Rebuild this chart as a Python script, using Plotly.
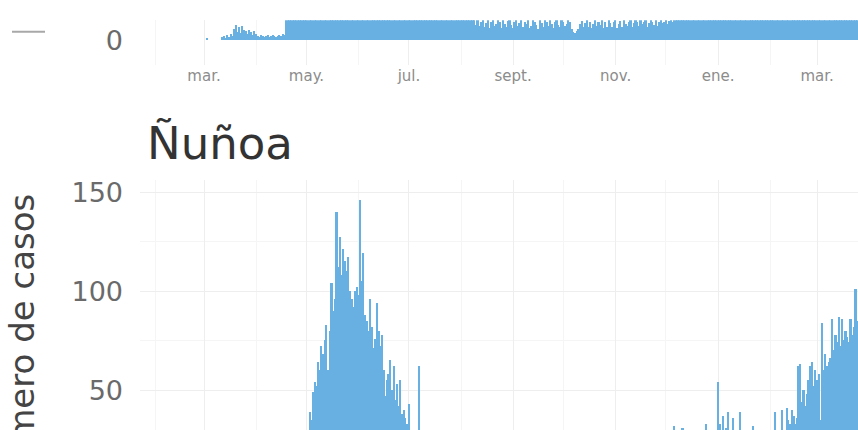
import pandas as pd
import plotly.graph_objects as go

W, H = 858, 430
START = "2020-03-01"

# ---- data (daily cases, day 0 = 2020-03-01) ----
top_vals = [
    0, 0, 0.5, 0, 0, 0, 0, 0, 0, 0, 0,
    1.5, 2, 1, 2.5, 1.5, 3, 2, 5.5, 7.5, 4,
    6.5, 3.5, 7, 5, 4.5, 3, 5, 4, 2.5, 4.5,
    3, 2, 1.5, 2.5, 2, 1.5, 2, 2.5, 1.5, 2,
    2.5, 2, 1.5, 2, 2.5, 2, 3, 2.5,
    14, 17, 15, 21, 18, 24, 20, 27, 23, 31,
    26, 35, 29, 38, 33, 41, 36, 45, 39, 48,
    43, 52, 46, 55, 49, 58, 51, 61, 54, 57,
    63, 55, 60, 52, 58, 49, 56, 47, 53, 44,
    50, 42, 47, 39, 45, 37, 43, 34, 41, 32,
    38, 30, 36, 28, 33, 26, 31, 24, 29, 22,
    27, 21, 25, 19, 23, 18, 22, 16, 20, 15,
    19, 14, 18, 13, 17, 12.5, 16, 12, 15, 11.5,
    14, 11, 13, 12, 10.5, 14, 11, 12.5, 10, 13,
    11.5, 10.5, 12, 13.5, 10, 11, 12, 10.5, 13, 11,
    10.5, 12, 11, 10, 12.5, 11.5, 10, 11, 13, 10.5, 12, 11, 10,
    7.5, 10.5, 7, 9, 10, 6.5, 8.5, 10, 6, 9, 10.5,
    7, 8, 10, 9, 6, 10, 8, 6.5, 9.5, 10, 7.5,
    6, 9, 10, 7, 8.5, 10, 6.5, 9, 8, 10, 6,
    7, 10, 9, 7.5, 5.5, 10, 8.5, 6.5, 10, 9, 7,
    10, 8, 6, 9, 10, 7.5, 6.5, 10.5, 9, 7, 8,
    10, 9, 5.5, 4, 3.5, 4.5, 5.5, 8, 9.5, 6.5, 8.5,
    10, 6.5, 9, 6, 8, 10, 7, 9, 7.5, 10, 6,
    9, 6.5, 10, 8.5, 6.5, 9, 10, 6, 8, 9.5, 6.5,
    10, 8, 7, 9, 10, 6.5, 8.5, 10, 9, 7, 10,
    8, 9, 10, 6.5, 8.5, 10, 9, 7.5, 10, 7, 9,
    10, 8.5, 9, 10, 8, 9.5, 10, 9, 10.5, 11, 12,
    14, 12.5, 16, 13, 18, 15, 21, 17, 24, 19,
    27, 22, 30, 25, 33, 28, 36, 31, 39, 34,
    42, 37, 45, 40, 48, 43, 51, 46, 55, 49,
    58, 52, 61, 55, 64, 58, 67, 61, 70, 64,
    73, 67, 76, 70, 79, 72, 82, 75, 85, 78,
    81, 76, 84, 79, 87, 80, 83, 77, 86, 80,
    84, 78, 88, 81, 85, 79, 90, 83, 87, 81,
    92, 85, 89, 83, 95, 87, 91, 85, 97, 89,
    93, 87, 99, 90, 95, 88, 101, 92, 97, 90,
    103, 94, 99, 92, 105, 96, 101, 94, 107, 98,
    103, 96, 109, 100, 105, 98, 111, 102,
]

nunoa_vals = [
    0, 0, 0, 1, 0, 2, 1, 3, 2, 4,
    5, 3, 6, 8, 7, 10, 9, 12, 8, 11,
    14, 10, 13, 9, 12, 15, 11, 8, 13, 10,
    12, 9, 14, 11, 10, 13, 8, 12, 15, 11,
    13, 16, 12, 18, 14, 17, 15, 19, 13, 16,
    17, 20, 16, 21, 19, 23, 22, 25, 21, 26,
    24, 28, 27, 39, 35, 49, 54, 52, 64, 60,
    72, 68, 75, 83, 60, 80, 104, 90, 96, 140,
    112, 127, 108, 121, 115, 110, 117, 100, 96, 92,
    100, 102, 98, 146, 105, 119, 88, 85, 80, 96,
    82, 71, 76, 94, 80, 72, 78, 60, 47, 55,
    58, 65, 50, 62, 45, 53, 42, 55, 38, 40,
    36, 33, 43, 28, 25, 22, 20, 24, 62, 19,
    21, 18, 15, 20, 14, 17, 12, 16, 19, 13,
    15, 14, 11, 16, 13, 12, 15, 10, 14, 12,
    13, 11, 14, 9, 12, 15, 10, 13, 11, 8,
    12, 10, 13, 9, 11, 14, 8, 12, 10, 13,
    9, 11, 8, 12, 10, 9, 13, 7, 11, 10,
    12, 9, 11, 8, 12, 10, 7, 11, 9, 13,
    10, 8, 12, 10, 9, 11, 14, 8, 10, 12,
    9, 11, 13, 9, 12, 10, 15, 11, 8, 13,
    10, 12, 9, 14, 11, 10, 13, 12, 9, 15,
    11, 13, 10, 12, 16, 11, 14, 9, 13, 12,
    15, 14, 11, 17, 12, 15, 10, 13, 16, 12,
    14, 15, 12, 18, 13, 16, 11, 14, 17, 13,
    15, 16, 13, 19, 14, 17, 12, 15, 18, 14,
    16, 17, 14, 20, 15, 18, 13, 16, 19, 15,
    17, 18, 15, 21, 16, 19, 14, 17, 20, 16,
    32, 18, 20, 17, 22, 31, 19, 21, 18, 23,
    20, 17, 22, 24, 19, 21, 25, 20, 23, 33,
    22, 26, 21, 24, 27, 23, 54, 33, 25, 37,
    29, 31, 39, 28, 26, 36, 30, 27, 25, 39,
    24, 28, 26, 29, 25, 27, 23, 32, 26, 24,
    28, 25, 29, 27, 24, 26, 28, 25, 27, 29,
    39, 26, 28, 27, 40, 30, 29, 41, 35, 33,
    40, 37, 33, 36, 62, 63, 44, 50, 42, 48,
    55, 62, 64, 52, 60, 55, 58, 35, 84, 60,
    68, 62, 64, 66, 86, 70, 78, 74, 87, 72,
    86, 75, 80, 77, 74, 86, 78, 82, 101, 85,
    90,
]

tick_dates = ["2020-03-01", "2020-05-01", "2020-07-01", "2020-09-01",
              "2020-11-01", "2021-01-01", "2021-03-01"]
tick_text = ["mar.", "may.", "jul.", "sept.", "nov.", "ene.", "mar."]
minor_dates = ["2020-02-01", "2020-04-01", "2020-06-01", "2020-08-01",
               "2020-10-01", "2020-12-01", "2021-02-01", "2021-04-01"]
nunoa_yticks = [50, 100, 150]
nunoa_yminor = [25, 75, 125]
title_text = "Ñuñoa"
ytitle_text = "Número de casos"

# ---- build ----
dates_top = pd.date_range(START, periods=len(top_vals), freq="D")
dates_nunoa = pd.date_range(START, periods=len(nunoa_vals), freq="D")

t0 = pd.Timestamp(START)
x_left = t0 + pd.Timedelta(days=-38.1)
x_right = t0 + pd.Timedelta(days=389.3)

def py(y):
    return 1 - y / H

def px(x):
    return x / W

BAR = "#68b0e2"
FONT = "DejaVu Sans"
GRID = "#eeeeee"
GRID_MINOR = "#f5f5f5"

fig = go.Figure()
fig.add_trace(go.Bar(x=dates_top, y=top_vals, marker=dict(color=BAR, line=dict(width=0)),
                     xaxis="x", yaxis="y", showlegend=False, hoverinfo="skip"))
fig.add_trace(go.Bar(x=dates_nunoa, y=nunoa_vals, marker=dict(color=BAR, line=dict(width=0)),
                     xaxis="x2", yaxis="y2", showlegend=False, hoverinfo="skip"))

xcommon = dict(
    type="date", range=[x_left, x_right], domain=[px(140), 1.0],
    tickmode="array", tickvals=tick_dates, ticktext=tick_text,
    showgrid=True, gridcolor=GRID, gridwidth=1, zeroline=False, showline=False,
    ticks="",
    minor=dict(tickvals=minor_dates, showgrid=True, gridcolor=GRID_MINOR, gridwidth=1),
)

fig.update_layout(
    width=W, height=H,
    margin=dict(l=0, r=0, t=0, b=0),
    paper_bgcolor="white", plot_bgcolor="white",
    bargap=0,
    font=dict(family=FONT),
    xaxis=dict(**xcommon, anchor="y", showticklabels=True,
               tickfont=dict(size=15, color="#8c8c8c", family=FONT),
               ticklabelstandoff=0),
    yaxis=dict(domain=[py(62), py(16.5)], range=[-12.75, 10], anchor="x",
               tickmode="array", tickvals=[0], ticktext=["0"],
               tickfont=dict(size=27, color="#6a6a6a", family=FONT),
               showgrid=False, zeroline=False, ticks="", ticklabelstandoff=16),
    xaxis2=dict(**xcommon, anchor="y2", showticklabels=False),
    yaxis2=dict(domain=[0, py(178)], range=[30, 156], anchor="x2",
                tickmode="array", tickvals=nunoa_yticks,
                tickfont=dict(size=27, color="#6a6a6a", family=FONT),
                showgrid=True, gridcolor=GRID, gridwidth=1, zeroline=False, ticks="",
                ticklabelstandoff=16,
                minor=dict(tickvals=nunoa_yminor, showgrid=True, gridcolor=GRID_MINOR, gridwidth=1)),
    annotations=[
        dict(text=title_text, xref="paper", yref="paper", x=px(145), y=py(141),
             xanchor="left", yanchor="middle", showarrow=False,
             font=dict(size=45, color="#333333", family=FONT)),
        dict(text=ytitle_text, xref="paper", yref="paper", x=px(22), y=py(190),
             xanchor="center", yanchor="top", showarrow=False, textangle=-90,
             font=dict(size=34, color="#444444", family=FONT)),
    ],
    shapes=[
        dict(type="line", xref="paper", yref="paper", x0=px(12), x1=px(45),
             y0=py(28), y1=py(28), line=dict(color="#a8a8a8", width=2)),
    ],
)

fig.write_html("out.html", config={"displayModeBar": False},
               post_script="document.body.style.margin='0';document.body.style.padding='0';")
